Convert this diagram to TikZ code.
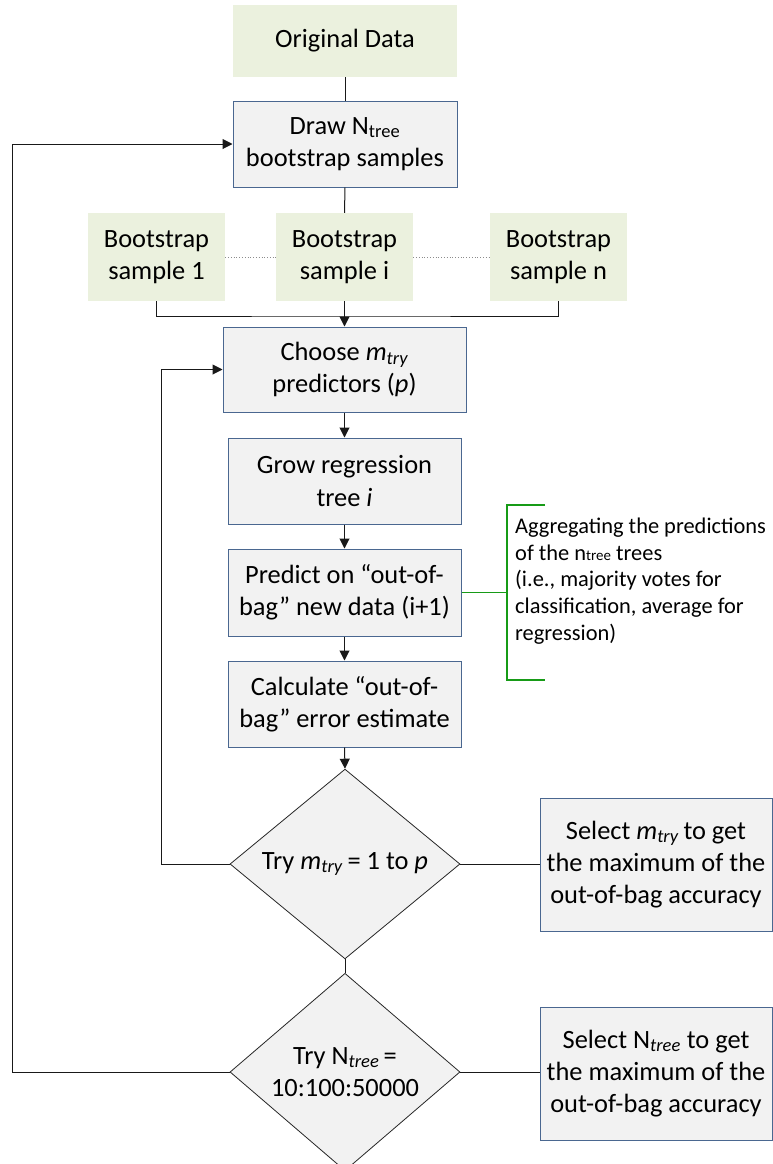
\documentclass[tikz,border=0pt]{standalone}
\usepackage{fontspec}
\setmainfont{Carlito}
\usetikzlibrary{arrows.meta,shapes.geometric}
\definecolor{boxgreen}{HTML}{EBF1DE}
\definecolor{boxgray}{HTML}{F2F2F2}
\definecolor{boxline}{HTML}{4A6790}
\definecolor{brgreen}{HTML}{179B17}
\tikzset{
  base/.style={inner sep=0pt, align=center, font=\fontsize{26.5}{32.5}\selectfont},
  greenbox/.style={base, fill=boxgreen},
  graybox/.style={base, fill=boxgray, draw=boxline, line width=1bp},
  decision/.style={base, diamond, fill=boxgray, draw=black!85, line width=0.8bp, minimum width=230bp, minimum height=182bp},
  conn/.style={draw=black!90, line width=1bp},
  arr/.style={conn, -{Triangle[length=10bp,width=10bp]}},
  dots/.style={draw=black!45, dotted, line width=0.8bp},
  bracket/.style={draw=brgreen, line width=1.2bp},
  note/.style={inner sep=0pt, align=left, font=\fontsize{22.5}{26.7}\selectfont},
}
\begin{document}
\begin{tikzpicture}[x=1bp,y=-1bp]
\useasboundingbox (0,0) rectangle (773,1164);
% nodes
\node[greenbox, minimum width=224bp, minimum height=72bp] (orig) at (345,41) {Original Data};
\node[graybox, minimum width=224bp, minimum height=86bp] (drawn) at (345,144) {Draw N\textsubscript{tree}\\bootstrap samples};
\node[greenbox, minimum width=137bp, minimum height=88bp] (b1) at (156.5,257) {Bootstrap\\sample 1};
\node[greenbox, minimum width=137bp, minimum height=88bp] (bi) at (344.5,257) {Bootstrap\\sample i};
\node[greenbox, minimum width=137bp, minimum height=88bp] (bn) at (558.5,257) {Bootstrap\\sample n};
\node[graybox, minimum width=243bp, minimum height=85bp] (choose) at (344.5,369.5) {Choose \textit{m}\textsubscript{\textit{try}}\\predictors (\textit{p})};
\node[graybox, minimum width=233bp, minimum height=86bp] (grow) at (344.5,481) {Grow regression\\tree \textit{i}};
\node[graybox, minimum width=233bp, minimum height=87bp] (predict) at (344.5,592.5) {Predict on “out-of-\\bag” new data (i+1)};
\node[graybox, minimum width=233bp, minimum height=86bp] (calc) at (344.5,704) {Calculate “out-of-\\bag” error estimate};
\node[decision] (d1) at (345,864) {Try \textit{m}\textsubscript{\textit{try}}\,= 1 to \textit{p}};
\node[decision] (d2) at (345,1072) {Try N\textsubscript{\textit{tree}}\,=\\10:100:50000};
\node[graybox, minimum width=232bp, minimum height=133bp] (s1) at (656,864.5) {Select \textit{m}\textsubscript{\textit{try}}\,to get\\the maximum of the\\out-of-bag accuracy};
\node[graybox, minimum width=232bp, minimum height=133bp] (s2) at (656,1073.5) {Select N\textsubscript{\textit{tree}} to get\\the maximum of the\\out-of-bag accuracy};
\node[note, anchor=west] (agg) at (515,581) {Aggregating the predictions\\of the n{\fontsize{15}{18}\selectfont tree} trees\\(i.e., majority votes for\\classification, average for\\regression)};
% coordinates
\coordinate (join) at (345,316);
\coordinate (brk) at (507,592.5);
\coordinate (brtop) at (507,505);
\coordinate (brbot) at (507,680);
\coordinate (brtopend) at (545,505);
\coordinate (brbotend) at (545,680);
\coordinate (loopin) at (161,864);
\coordinate (loopout) at (12,1072);
% connectors
\draw[conn] (orig.south) -- (drawn.north);
\draw[conn] (drawn.south) -- (bi.north);
\draw[dots] (b1.east) -- (bi.west);
\draw[dots] (bi.east) -- (bn.west);
\draw[conn] (b1.south) |- (join) -| (bn.south);
\draw[arr] (bi.south) -- (choose.north);
\draw[arr] (choose.south) -- (grow.north);
\draw[arr] (grow.south) -- (predict.north);
\draw[arr] (predict.south) -- (calc.north);
\draw[arr] (calc.south) -- (d1.north);
\draw[conn] (d1.south) -- (d2.north);
\draw[conn] (d1.east) -- (d1.east -| s1.west);
\draw[conn] (d2.east) -- (d2.east -| s2.west);
\draw[arr] (d1.west) -- (loopin) |- (choose.west);
\draw[arr] (d2.west) -- (loopout) |- (drawn.west);
\draw[bracket] (predict.east) -- (brk);
\draw[bracket] (brtopend) -- (brtop) -- (brbot) -- (brbotend);
\end{tikzpicture}
\end{document}
